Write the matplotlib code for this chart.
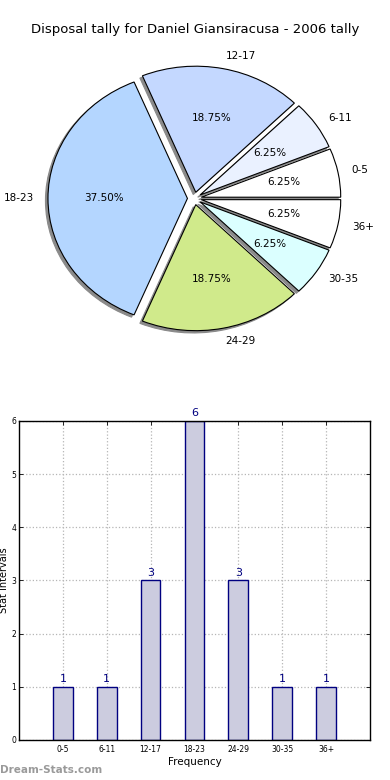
import matplotlib
matplotlib.use("Agg")
import matplotlib.pyplot as plt

categories = ["0-5", "6-11", "12-17", "18-23", "24-29", "30-35", "36+"]
counts = [1, 1, 3, 6, 3, 1, 1]
pie_colors = ["#ffffff", "#eaf1ff", "#c4d8ff", "#b4d6ff", "#d0ea8b", "#dbffff", "#ffffff"]
title = "Disposal tally for Daniel Giansiracusa - 2006 tally"

fig = plt.figure(figsize=(3.9, 7.8), dpi=100)
fig.text(0.5, 1 - 30/780, title, ha="center", va="center", fontsize=9.5)

# Pie
axp = fig.add_axes([0.0515, 0.5436, 0.894, 0.404])
wedges, texts, autotexts = axp.pie(
    counts, labels=categories, colors=pie_colors, explode=[0.05]*len(counts),
    autopct="%1.2f%%",
    shadow=dict(ox=-0.013, oy=-0.013, facecolor="#8a8a8a", edgecolor="#8a8a8a", alpha=1.0),
    startangle=0, counterclock=True,
    wedgeprops=dict(edgecolor="black", linewidth=0.8),
    textprops=dict(fontsize=7.5))
axp.set_aspect("auto")
axp.set_xlim(-1.25, 1.25)
axp.set_ylim(-1.25, 1.25)
axp.axis("off")

# Bars
axb = fig.add_axes([0.0487, 0.0513, 0.9, 0.409])
x = list(range(len(categories)))
bars = axb.bar(x, counts, width=0.45, color="#ccccdf", edgecolor="#000080", linewidth=1.0, zorder=2)
for xi, v in zip(x, counts):
    axb.text(xi, v + 0.05, str(v), ha="center", va="bottom", color="#000080", fontsize=8, clip_on=False)
axb.set_xlim(-1, 7)
axb.set_ylim(0, 6)
axb.set_xticks(x)
axb.set_xticklabels(categories, fontsize=5.5)
axb.set_yticks(range(0, 7))
axb.tick_params(axis="y", labelsize=5.5, pad=2)
axb.tick_params(direction="in", top=True, right=True, length=3, width=0.6)
axb.grid(True, linestyle=":", color="#b5b5b5", linewidth=0.9, zorder=0)
axb.set_axisbelow(True)
axb.set_xlabel("Frequency", fontsize=7.5, labelpad=2)
axb.set_ylabel("Stat Intervals", fontsize=7)
axb.yaxis.set_label_coords(-0.028, 0.5)
for s in axb.spines.values():
    s.set_linewidth(1.0)

fig.text(0.0, 1 - 770/780, "Dream-Stats.com", ha="left", va="center", fontsize=7.5,
         color="#9a9a9a", fontweight="bold")

fig.savefig("out.png", dpi=100)
